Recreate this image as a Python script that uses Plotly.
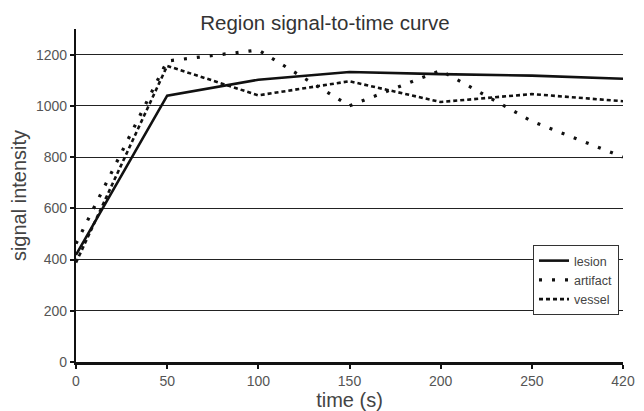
import plotly.graph_objects as go

time_labels = ["0", "50", "100", "150", "200", "250", "420"]
lesion = [418, 1040, 1102, 1132, 1124, 1118, 1106]
artifact = [462, 1175, 1218, 1000, 1138, 940, 800]
vessel = [388, 1156, 1041, 1096, 1015, 1046, 1018]

FONT = "Liberation Sans, Arial, sans-serif"
INK = "#111111"

# page body has an 8px default margin; compensate so the plot lands where the reference has it
OFF = 8
W, H = 644 - OFF, 411 - OFF
L, T, PW, PH = 76 - OFF, 29 - OFF, 547, 333

fig = go.Figure()
fig.add_trace(go.Scatter(x=time_labels, y=lesion, mode="lines", name="lesion",
                         line=dict(color=INK, width=2.6)))
fig.add_trace(go.Scatter(x=time_labels, y=artifact, mode="lines", name="artifact",
                         line=dict(color=INK, width=3.2, dash="3px,10px")))
fig.add_trace(go.Scatter(x=time_labels, y=vessel, mode="lines", name="vessel",
                         line=dict(color=INK, width=2.6, dash="4px,3px")))

fig.update_layout(
    width=W, height=H,
    margin=dict(l=L, r=W - L - PW, t=T, b=H - T - PH, autoexpand=False),
    paper_bgcolor="white", plot_bgcolor="white",
    font=dict(family=FONT, color="#444444", size=13),
    title=dict(text="Region signal-to-time curve", x=(325 - OFF) / W, xref="container",
               y=1 - (23 - OFF) / H, yref="container", yanchor="middle", xanchor="center",
               font=dict(size=20.5, color="#333333", family=FONT)),
    showlegend=True,
    legend=dict(x=(533 - 76) / PW, y=(362 - 245) / PH, xanchor="left", yanchor="top",
                bgcolor="white", bordercolor="#333333", borderwidth=1,
                font=dict(size=12.5, color="#444444", family=FONT),
                itemwidth=30, tracegroupgap=0),
)
fig.update_xaxes(
    type="category", range=[0, 6], automargin=False,
    showline=True, linecolor=INK, linewidth=2.5,
    ticks="outside", ticklen=4, tickwidth=1.5, tickcolor=INK,
    showgrid=False, zeroline=False,
    tickfont=dict(size=14, color="#555555"),
    title=dict(text="time (s)", font=dict(size=20, color="#444444"), standoff=0),
)
fig.update_yaxes(
    range=[0, 1300], tickvals=[0, 200, 400, 600, 800, 1000, 1200], automargin=False,
    showline=True, linecolor=INK, linewidth=2.2,
    ticks="outside", ticklen=4, tickwidth=1.5, tickcolor=INK,
    showgrid=True, gridcolor="#222222", gridwidth=1.4, zeroline=False,
    tickfont=dict(size=14, color="#555555"),
    title=dict(text="signal intensity", font=dict(size=20, color="#444444"), standoff=6),
)

fig.write_html("out.html")
